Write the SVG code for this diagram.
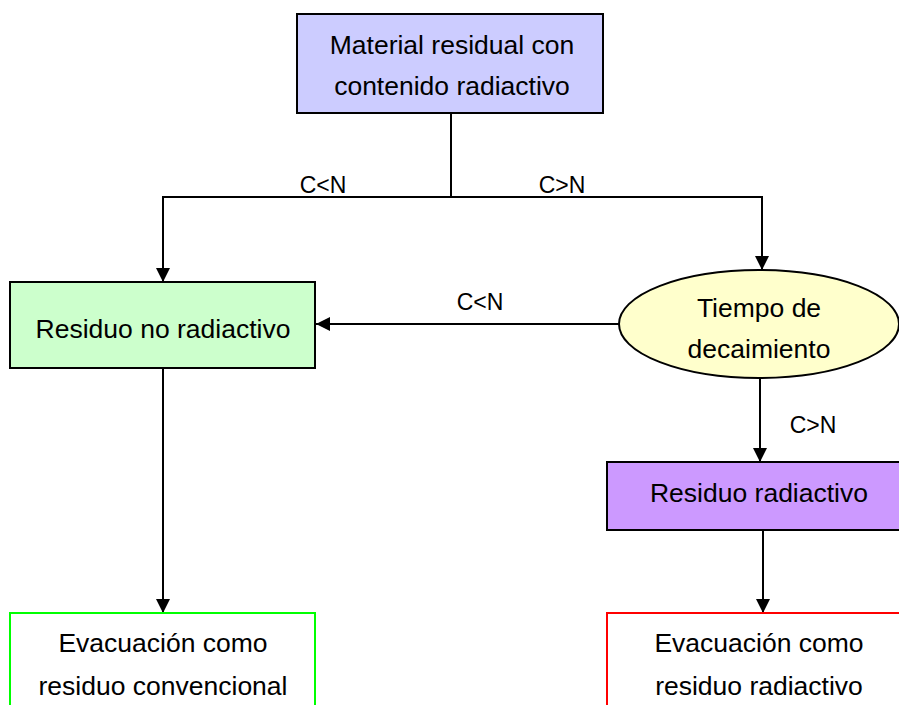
<svg xmlns="http://www.w3.org/2000/svg" width="899" height="705" viewBox="0 0 899 705">
<defs>
<marker id="ah" viewBox="0 0 10 10" refX="10" refY="5" markerWidth="14" markerHeight="14" markerUnits="userSpaceOnUse" orient="auto">
<path d="M0,0 L10,5 L0,10 Z" fill="#000"/>
</marker>
<style>
.t{font-family:"Liberation Sans",Arial,sans-serif;font-size:26.5px;fill:#000;text-anchor:middle}
.l{font-family:"Liberation Sans",Arial,sans-serif;font-size:23px;fill:#000;text-anchor:middle}
.c{fill:none;stroke:#000;stroke-width:2}
.b{stroke:#000;stroke-width:2}
</style>
</defs>
<rect width="899" height="705" fill="#fff"/>
<g id="connectors">
<path class="c" d="M451,113 V197"/>
<path class="c" d="M451,197 H163 V282" marker-end="url(#ah)"/>
<path class="c" d="M451,197 H762 V270" marker-end="url(#ah)"/>
<path class="c" d="M619,324 H316" marker-end="url(#ah)"/>
<path class="c" d="M760,378 V462" marker-end="url(#ah)"/>
<path class="c" d="M163,368 V613" marker-end="url(#ah)"/>
<path class="c" d="M763,530 V613" marker-end="url(#ah)"/>
<text class="l" x="323" y="193">C&lt;N</text>
<text class="l" x="562" y="193">C&gt;N</text>
<text class="l" x="480" y="310">C&lt;N</text>
<text class="l" x="813" y="433">C&gt;N</text>
</g>
<g id="n1">
<rect class="b" x="297" y="14" width="306" height="99" fill="#ccccff"/>
<text class="t" x="452" y="54">Material residual con</text>
<text class="t" x="452" y="95">contenido radiactivo</text>
</g>
<g id="n2">
<rect class="b" x="10" y="282" width="305" height="86" fill="#ccffcc"/>
<text class="t" x="163" y="338">Residuo no radiactivo</text>
</g>
<g id="n3">
<ellipse class="b" cx="759" cy="324" rx="140" ry="54" fill="#ffffcc"/>
<text class="t" x="759" y="317">Tiempo de</text>
<text class="t" x="759" y="358">decaimiento</text>
</g>
<g id="n4">
<rect class="b" x="607" y="462" width="300" height="68" fill="#cc99ff"/>
<text class="t" x="759" y="502">Residuo radiactivo</text>
</g>
<g id="n5">
<rect x="10" y="613" width="305" height="100" fill="#fff" stroke="#00ff00" stroke-width="2"/>
<text class="t" x="163" y="652">Evacuación como</text>
<text class="t" x="163" y="695">residuo convencional</text>
</g>
<g id="n6">
<rect x="607" y="613" width="300" height="100" fill="#fff" stroke="#ff0000" stroke-width="2"/>
<text class="t" x="759" y="652">Evacuación como</text>
<text class="t" x="759" y="695">residuo radiactivo</text>
</g>
</svg>
